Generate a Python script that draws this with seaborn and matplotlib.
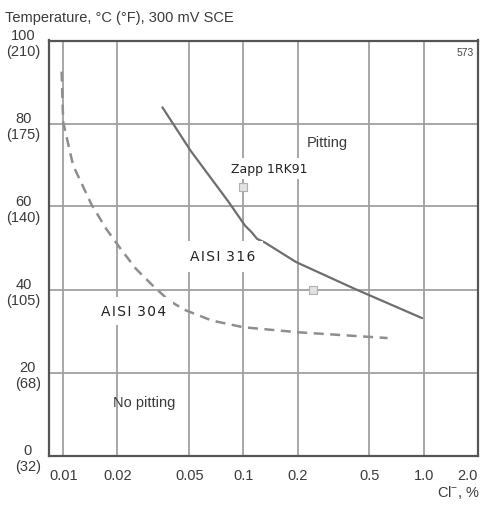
import matplotlib
matplotlib.use("Agg")
import matplotlib.pyplot as plt
import numpy as np
import pandas as pd
import seaborn as sns
from matplotlib.ticker import FixedLocator, NullLocator, FixedFormatter

# ---- data ----
aisi304_cl = [0.0098, 0.0099, 0.0100, 0.01135, 0.01434, 0.01733, 0.0205, 0.0253,
              0.0313, 0.0387, 0.0477, 0.067, 0.100, 0.200, 0.630]
aisi304_t = [92.5, 86.0, 80.3, 69.9, 60.5, 54.6, 50.2, 45.0,
             41.0, 37.3, 35.0, 32.5, 30.9, 29.7, 28.3]

aisi316_cl = [0.0355, 0.0508, 0.0827, 0.102, 0.111, 0.119, 0.1316, 0.196, 0.412, 0.979]
aisi316_t = [83.9, 73.5, 61.1, 55.4, 53.8, 52.2, 51.3, 46.6, 40.2, 33.1]

marker_cl = [0.100, 0.243]
marker_t = [64.7, 39.9]

x_ticks = [0.01, 0.02, 0.05, 0.1, 0.2, 0.5, 1.0, 2.0]
x_tick_labels = ["0.01", "0.02", "0.05", "0.1", "0.2", "0.5", "1.0", "2.0"]
y_ticks = [0, 20, 40, 60, 80, 100]
y_tick_labels = ["0\n(32)", "20\n(68)", "40\n(105)", "60\n(140)", "80\n(175)", "100\n(210)"]

sns.set_style("white")
plt.rcParams["font.family"] = ["Liberation Sans", "DejaVu Sans"]
plt.rcParams["mathtext.fontset"] = "custom"
plt.rcParams["mathtext.rm"] = "Liberation Sans"
plt.rcParams["mathtext.default"] = "regular"

fig = plt.figure(figsize=(4.82, 5.10), dpi=100)
ax = fig.add_axes([49 / 482, 1 - 456.5 / 510, (478 - 49) / 482, (456.5 - 41.5) / 510])

df304 = pd.DataFrame({"cl": aisi304_cl, "t": aisi304_t})
df316 = pd.DataFrame({"cl": aisi316_cl, "t": aisi316_t})
dfm = pd.DataFrame({"cl": marker_cl, "t": marker_t})

sns.lineplot(data=df304, x="cl", y="t", ax=ax, sort=False, estimator=None,
             color="#8e8e8e", lw=1.8, linestyle=(0, (4, 2.6)), zorder=3)
sns.lineplot(data=df316, x="cl", y="t", ax=ax, sort=False, estimator=None,
             color="#6e6e6e", lw=1.6, zorder=3)
sns.scatterplot(data=dfm, x="cl", y="t", ax=ax, marker="s", s=28,
                facecolor="#e2e2e2", edgecolor="#b0b0b0", linewidth=0.8, zorder=4)

ax.set_xscale("log")
ax.set_xlim(0.00834, 2.0)
ax.set_ylim(0, 100)
ax.xaxis.set_major_locator(FixedLocator(x_ticks))
ax.xaxis.set_major_formatter(FixedFormatter(x_tick_labels))
ax.xaxis.set_minor_locator(NullLocator())
ax.set_yticks(y_ticks)
ax.set_yticklabels(y_tick_labels, multialignment="center", linespacing=1.2)
ax.tick_params(axis="both", length=0, labelsize=10.5, labelcolor="#3a3a3a")
ax.tick_params(axis="y", pad=6)
ax.tick_params(axis="x", pad=9)
ax.set_xlabel("")
ax.set_ylabel("")
xlabels = ax.get_xticklabels()
xlabels[-1].set_horizontalalignment("right")

ax.grid(True, which="major", color="#a0a0a0", lw=1.3)
ax.set_axisbelow(True)
for s in ax.spines.values():
    s.set_color("#555555")
    s.set_linewidth(1.6)

hs = "\u200a"
ax.text(0.2935, 75.6, "Pitting", ha="center", va="center", fontsize=10.5, color="#3a3a3a")
ax.text(0.0282, 12.9, "No pitting", ha="center", va="center", fontsize=10.5, color="#3a3a3a")
ax.text(0.139, 69.1, "Zapp 1RK91", ha="center", va="center", fontsize=9,
        family=["DejaVu Sans"], color="#222222", zorder=5,
        bbox=dict(boxstyle="square,pad=0.3", fc="white", ec="none"))
ax.text(0.0764, 48.0, hs.join("AISI") + hs + " " + hs.join("316"), ha="center", va="center",
        fontsize=10, family=["DejaVu Sans"], color="#222222", zorder=5,
        bbox=dict(boxstyle="square,pad=0.6", fc="white", ec="none"))
ax.text(0.0246, 34.9, hs.join("AISI") + hs + " " + hs.join("304"), ha="center", va="center",
        fontsize=10, family=["DejaVu Sans"], color="#222222", zorder=5,
        bbox=dict(boxstyle="square,pad=0.5", fc="white", ec="none"))

fig.text(5 / 482, 1 - 18 / 510, "Temperature, °C (°F), 300 mV SCE", ha="left", va="center",
         fontsize=10.5, color="#3a3a3a")
fig.text(480 / 482, 1 - 493 / 510, r"Cl$^{-}$, %", ha="right", va="center",
         fontsize=10.5, color="#3a3a3a")
fig.text(465 / 482, 1 - 53 / 510, "573", ha="center", va="center", fontsize=7.5, color="#444444")

fig.savefig("out.png", dpi=100)
